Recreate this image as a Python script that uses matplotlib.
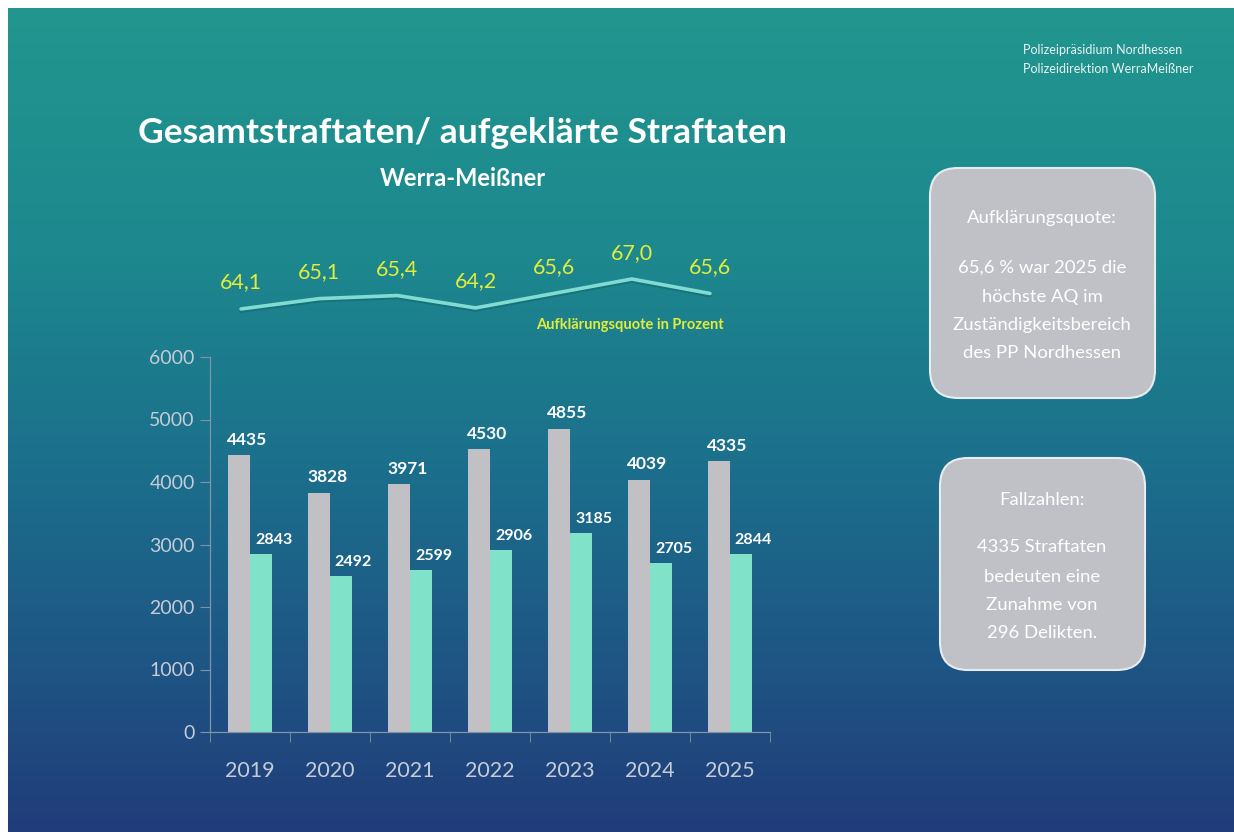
import numpy as np
import matplotlib.pyplot as plt
import matplotlib.patheffects as pe
from matplotlib.patches import FancyBboxPatch

# data
years = ['2019', '2020', '2021', '2022', '2023', '2024', '2025']
total = [4435, 3828, 3971, 4530, 4855, 4039, 4335]      # Gesamtstraftaten
solved = [2843, 2492, 2599, 2906, 3185, 2705, 2844]     # aufgeklaerte Straftaten
quote = [64.1, 65.1, 65.4, 64.2, 65.6, 67.0, 65.6]      # Aufklaerungsquote in %
yticks = [0, 1000, 2000, 3000, 4000, 5000, 6000]

W, H = 1234, 832
plt.rcParams['font.family'] = ['Lato', 'DejaVu Sans']

GRAY = '#C0C0C5'
GREEN = '#80E2C8'
YELLOW = '#E2EC3A'
TICK = '#C5CCD6'


def rect(l, t, r, b):
    # pixel box -> figure fraction
    return [l / W, 1 - b / H, (r - l) / W, (b - t) / H]


fig = plt.figure(figsize=(W / 100, H / 100), dpi=100, facecolor='white')

# background slide with vertical gradient, axes in pixel coords
bg = fig.add_axes(rect(8, 8, W, H))
stops = [0.0, 0.3, 0.55, 0.8, 1.0]
cols = np.array([[34, 150, 143], [29, 136, 142], [27, 112, 140],
                 [30, 85, 132], [33, 60, 122]]) / 255
t = np.linspace(0, 1, 400)
grad = np.stack([np.interp(t, stops, cols[:, k]) for k in range(3)], axis=1)
bg.imshow(grad[:, None, :], extent=(8, W, H, 8), aspect='auto')
bg.set_xlim(8, W)
bg.set_ylim(H, 8)
bg.axis('off')

# header texts
bg.text(1023, 50, 'Polizeipräsidium Nordhessen', color='white', alpha=0.9,
        fontsize=9, ha='left', va='center')
bg.text(1023, 69, 'Polizeidirektion WerraMeißner', color='white', alpha=0.9,
        fontsize=9, ha='left', va='center')
bg.text(463, 133, 'Gesamtstraftaten/ aufgeklärte Straftaten', color='white',
        fontsize=25.5, fontweight='bold', ha='center', va='center')
bg.text(463, 178, 'Werra-Meißner', color='white', fontsize=17,
        fontweight='bold', ha='center', va='center')
bg.text(630, 325, 'Aufklärungsquote in Prozent', color=YELLOW, fontsize=10.5,
        fontweight='bold', ha='center', va='center')

# info boxes on the right
for (l, tp, r, b) in [(930, 168, 1155, 398), (940, 458, 1145, 670)]:
    bg.add_patch(FancyBboxPatch((l, tp), r - l, b - tp,
                                boxstyle='round,pad=0,rounding_size=28',
                                facecolor='#BFC1C6', edgecolor='#E8ECEF', lw=1.5))

box1 = [('Aufklärungsquote:', 218), ('65,6 % war 2025 die', 268),
        ('höchste AQ im', 297), ('Zuständigkeitsbereich', 325),
        ('des PP Nordhessen', 353)]
box2 = [('Fallzahlen:', 500), ('4335 Straftaten', 547), ('bedeuten eine', 577),
        ('Zunahme von', 605), ('296 Delikten.', 633)]
for txt, y in box1:
    bg.text(1042, y, txt, color='white', fontsize=13.3, ha='center', va='center')
for txt, y in box2:
    bg.text(1042, y, txt, color='white', fontsize=13.3, ha='center', va='center')

# bar chart
ax = fig.add_axes(rect(210, 357, 770, 732))
ax.patch.set_alpha(0)
x = np.arange(len(years))
bw = 0.275
ax.bar(x - bw / 2, total, bw, color=GRAY, zorder=2)
ax.bar(x + bw / 2, solved, bw, color=GREEN, zorder=2)
for i in range(len(years)):
    ax.annotate(str(total[i]), (x[i] - bw / 2, total[i]), xytext=(6, 11),
                textcoords='offset points', ha='center', va='center',
                color='white', fontsize=12.5, fontweight='bold')
    ax.annotate(str(solved[i]), (x[i] + bw / 2, solved[i]), xytext=(9, 10),
                textcoords='offset points', ha='center', va='center',
                color='white', fontsize=11.5, fontweight='bold')

ax.set_xlim(-0.5, len(years) - 0.5)
ax.set_ylim(0, 6000)
ax.set_yticks(yticks)
ax.set_xticks(x)
ax.set_xticklabels(years)
ax.set_xticks(np.arange(-0.5, len(years)), minor=True)
ax.tick_params(axis='x', which='major', length=0, pad=21, labelsize=15.5, labelcolor=TICK)
ax.tick_params(axis='x', which='minor', length=7, color='#7D95A5', direction='out')
ax.tick_params(axis='y', length=7, color='#7D95A5', labelsize=14, labelcolor=TICK, pad=4)
for s in ['top', 'right']:
    ax.spines[s].set_visible(False)
for s in ['left', 'bottom']:
    ax.spines[s].set_color('#7D95A5')
    ax.spines[s].set_linewidth(0.9)

# quote line above the bars
lx = fig.add_axes(rect(202, 240, 749, 340))
lx.patch.set_alpha(0)
lx.plot(x, quote, color='#7FDCD2', lw=2.6, solid_capstyle='round',
        path_effects=[pe.SimpleLineShadow(offset=(0, -1.5), shadow_color='black', alpha=0.12),
                      pe.Normal()])
for i, q in enumerate(quote):
    lx.annotate(f'{q:.1f}'.replace('.', ','), (x[i], q), xytext=(0, 19),
                textcoords='offset points', ha='center', va='center',
                color=YELLOW, fontsize=15.5)
lx.set_xlim(-0.5, len(years) - 0.5)
lx.set_ylim(61.1, 70.77)
lx.axis('off')

fig.savefig('out.png', dpi=100, facecolor='white')
